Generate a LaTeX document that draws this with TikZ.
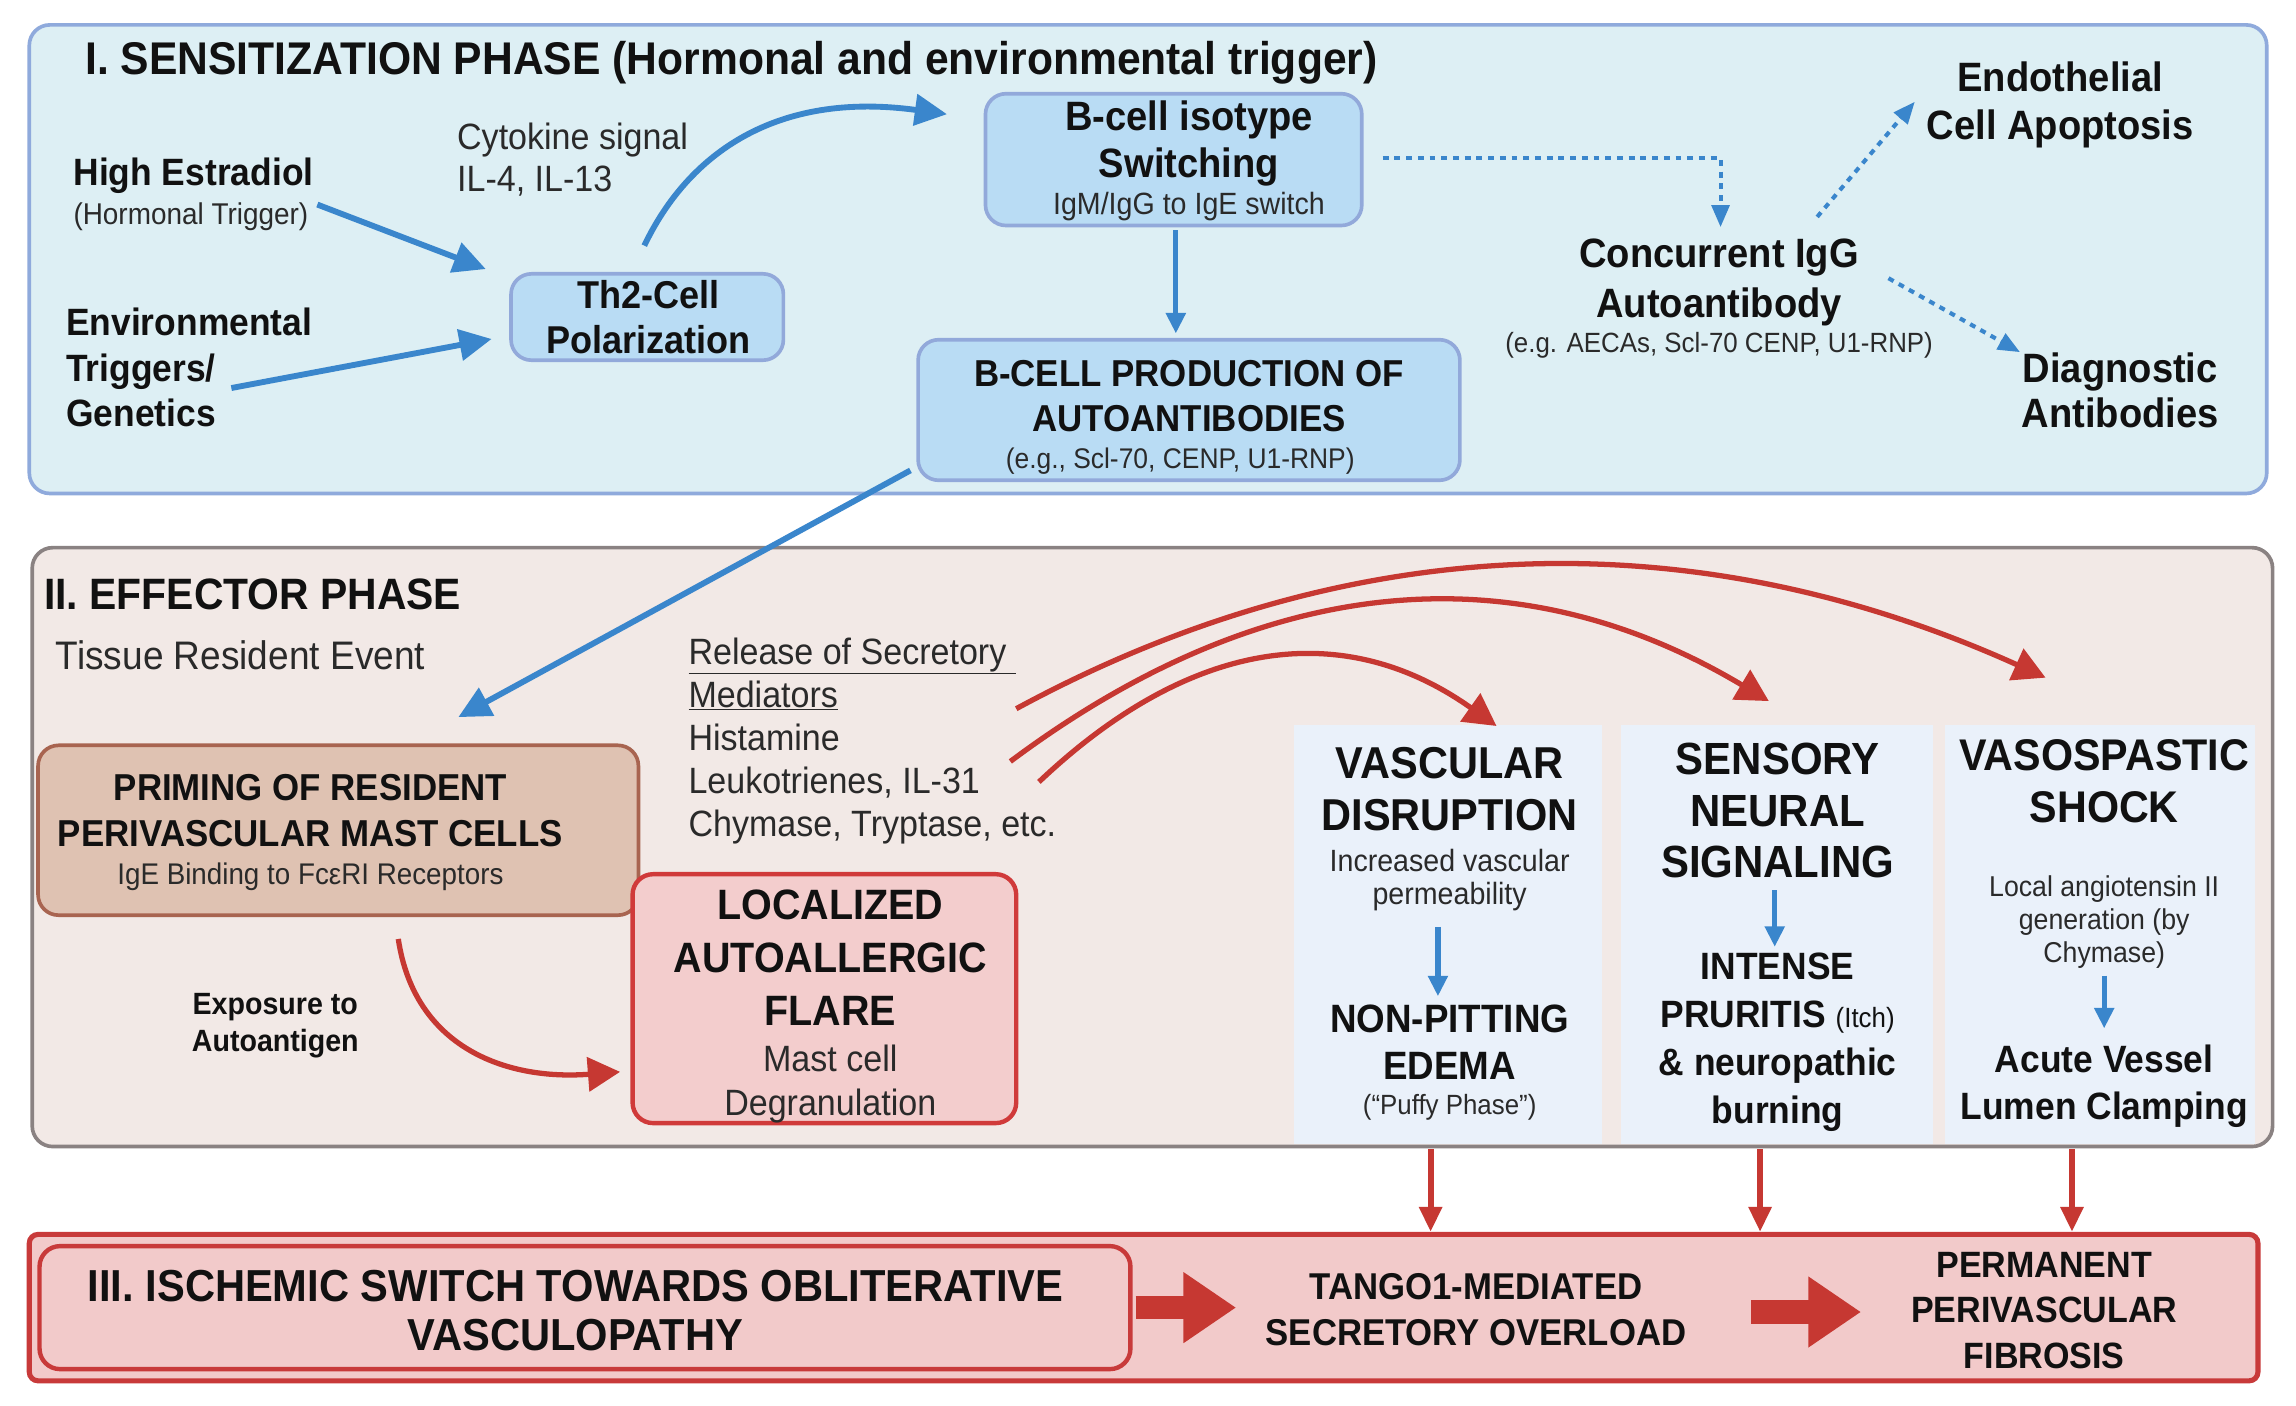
\documentclass[tikz,border=0pt]{standalone}
\usepackage{fontspec}
\setmainfont{Liberation Sans}[FakeStretch=0.93]
\usetikzlibrary{arrows.meta,calc}
\definecolor{fillI}{HTML}{DDEFF4}
\definecolor{bordI}{HTML}{8FAADC}
\definecolor{bfill}{HTML}{B9DCF4}
\definecolor{bbord}{HTML}{92A9DA}
\definecolor{ablue}{HTML}{3A86CC}
\definecolor{fillII}{HTML}{F2E9E6}
\definecolor{bordII}{HTML}{8A8282}
\definecolor{primfill}{HTML}{DFC2B2}
\definecolor{primbord}{HTML}{A86450}
\definecolor{locfill}{HTML}{F3CDCD}
\definecolor{locbord}{HTML}{D03A3A}
\definecolor{ared}{HTML}{C63832}
\definecolor{colfill}{HTML}{EAF1FA}
\definecolor{fillIII}{HTML}{F2CACA}
\definecolor{bordIII}{HTML}{C83A3A}
\definecolor{txtc}{HTML}{111111}
\definecolor{subc}{HTML}{2A2A2A}
\newcommand{\fs}[2]{\fontsize{#1}{#2}\selectfont}
\begin{document}
\begin{tikzpicture}[x=1pt,y=-1pt,
  lbl/.style={inner sep=0pt, text=txtc, align=center},
  sublbl/.style={inner sep=0pt, text=subc, align=center},
  panelI/.style={draw=bordI, fill=fillI, line width=2.5pt, rounded corners=14pt, inner sep=0pt},
  panelII/.style={draw=bordII, fill=fillII, line width=2.5pt, rounded corners=14pt, inner sep=0pt},
  panelIII/.style={draw=bordIII, fill=fillIII, line width=3.5pt, rounded corners=6pt, inner sep=0pt},
  innerIII/.style={draw=bordIII, fill=fillIII, line width=3pt, rounded corners=14pt, inner sep=0pt},
  bbox/.style={draw=bbord, fill=bfill, line width=2.5pt, rounded corners=14pt, inner sep=0pt},
  primbox/.style={draw=primbord, fill=primfill, line width=2.5pt, rounded corners=14pt, inner sep=0pt},
  locbox/.style={draw=locbord, fill=locfill, line width=3pt, rounded corners=14pt, inner sep=0pt},
  colbox/.style={fill=colfill, inner sep=0pt},
  barrow/.style={ablue, line width=4pt, -{Triangle[length=22pt,width=21pt]}},
  bsmall/.style={ablue, line width=3.5pt, -{Triangle[length=14pt,width=13pt]}},
  bdot/.style={ablue, line width=2.8pt, dash pattern=on 4pt off 4pt, -{Triangle[length=15pt,width=12pt]}},
  rarrow/.style={ared, line width=3.6pt, -{Triangle[length=22pt,width=23pt]}},
  rdown/.style={ared, line width=4pt, -{Triangle[length=17pt,width=15pt]}},
  blockarr/.style={ared, line width=16pt, -{Triangle[length=36pt,width=46pt]}}
]
\fill[white] (0,0) rectangle (1568,960);
\useasboundingbox (0,0) rectangle (1568,960);

% ---------- Panel I ----------
\node[panelI, minimum width=1528pt, minimum height=320pt] (pI) at (784,177) {};
\node[lbl, anchor=base west, font=\fs{31.3}{36}\bfseries] (tI) at (58,51)
  {I. SENSITIZATION PHASE (Hormonal and environmental trigger)};
\node[lbl, anchor=base west, font=\fs{26}{31}\bfseries] (est) at (50,127) {High Estradiol};
\node[sublbl, anchor=base west, font=\fs{20.5}{24}] (estsub) at (50,153) {(Hormonal Trigger)};
\node[lbl, anchor=west, align=left, font=\fs{26}{31}\bfseries] (env) at (45,251)
  {Environmental\\Triggers/\\Genetics};
\node[sublbl, anchor=west, align=left, font=\fs{25}{29}] (cyt) at (312,109)
  {Cytokine signal\\IL-4, IL-13};

\node[bbox, minimum width=186pt, minimum height=59pt] (th2) at (442,216.5) {};
\node[lbl, font=\fs{26.5}{31}\bfseries] (th2t) at (443,216.5) {Th2-Cell\\Polarization};

\node[bbox, minimum width=257pt, minimum height=90pt] (bsw) at (801.5,109) {};
\node[lbl, font=\fs{28}{32}\bfseries] (bswt) at (812,98) {B-cell isotype\\Switching};
\node[sublbl, font=\fs{21}{24}] (bsws) at (812,141) {IgM/IgG to IgE switch};

\node[bbox, minimum width=370pt, minimum height=96pt] (bprod) at (812,280) {};
\node[lbl, font=\fs{25.6}{31}\bfseries] (bprodt) at (812,270.5) {B-CELL PRODUCTION OF\\AUTOANTIBODIES};
\node[sublbl, font=\fs{19.4}{23}] (bprods) at (806,315) {(e.g., Scl-70, CENP, U1-RNP)};

\node[lbl, font=\fs{28}{34}\bfseries] (conc) at (1174,193) {Concurrent IgG\\Autoantibody};
\node[sublbl, font=\fs{19}{23}] (concs) at (1174,236) {(e.g. AECAs, Scl-70 CENP, U1-RNP)};
\node[lbl, font=\fs{28}{33}\bfseries] (endo) at (1407,71.5) {Endothelial\\Cell Apoptosis};
\node[lbl, font=\fs{28}{31}\bfseries] (diag) at (1448,266.5) {Diagnostic\\Antibodies};

% connectors panel I
\draw[barrow] ($(estsub.east)+(6,-8)$) -- ($(th2.north west)+(-16,-2)$);
\draw[barrow] ($(env.west)+(113,14)$) -- ($(th2.west)+(-12,15)$);
\draw[barrow] ($(th2.north)+(-2,-18)$) .. controls (470,105) and (530,62) .. ($(bsw.west)+(-25,-31)$);
\draw[bsmall] ($(bsw.south)+(1.5,2)$) -- ($(bprod.north)+(-9,-3)$);
\draw[bdot] ($(bsw.east)+(13,-1)$) -| ($(conc.north)+(1,-8)$);
\draw[bdot] ($(conc.north)+(67,-15)$) -- ($(endo.west)+(-8,-2)$);
\draw[bdot] ($(conc.east)+(20,-3)$) -- ($(diag.west)+(-1,-26)$);

% ---------- Panel II ----------
\node[panelII, minimum width=1530pt, minimum height=409pt] (pII) at (787,578.5) {};
\node[colbox, minimum width=210pt, minimum height=286.5pt] (col1) at (989,638.25) {};
\node[colbox, minimum width=213pt, minimum height=286.5pt] (col2) at (1213.5,638.25) {};
\node[colbox, minimum width=212pt, minimum height=286.5pt] (col3) at (1434,638.25) {};

\node[lbl, anchor=base west, font=\fs{30}{34}\bfseries] (tII) at (30,416) {II. EFFECTOR PHASE};
\node[sublbl, anchor=base west, font=\fs{27.2}{30}] (tre) at (38,457) {Tissue Resident Event};
\node[sublbl, anchor=west, align=left, font=\fs{25}{29.5}] (med) at (470,506)
  {\underline{Release of Secretory\ }\\\underline{Mediators}\\Histamine\\Leukotrienes, IL-31\\Chymase, Tryptase, etc.};

\node[primbox, minimum width=410pt, minimum height=116pt] (prim) at (231,567) {};
\node[lbl, font=\fs{25.6}{31}\bfseries] (primt) at (212,553.5) {PRIMING OF RESIDENT\\PERIVASCULAR MAST CELLS};
\node[sublbl, font=\fs{20.4}{24}] (prims) at (212,599) {IgE Binding to FcεRI Receptors};

\node[locbox, minimum width=262pt, minimum height=170pt] (loc) at (563,682) {};
\node[lbl, font=\fs{29}{36}\bfseries] (loct) at (567,654) {LOCALIZED\\AUTOALLERGIC\\FLARE};
\node[sublbl, font=\fs{25}{30}] (locs) at (567,740.5) {Mast cell\\Degranulation};

\node[lbl, font=\fs{21}{25}\bfseries] (expo) at (188,700.5) {Exposure to\\Autoantigen};

% column texts
\node[lbl, font=\fs{30.5}{36}\bfseries] (c1t) at (990,539) {VASCULAR\\DISRUPTION};
\node[sublbl, font=\fs{21}{22}] (c1s) at (990,601) {Increased vascular\\permeability};
\node[lbl, font=\fs{27}{32}\bfseries] (c1b) at (990,712) {NON-PITTING\\EDEMA};
\node[sublbl, font=\fs{19}{22}] (c1p) at (990,756) {(\textquotedblleft Puffy Phase\textquotedblright)};

\node[lbl, font=\fs{30.8}{35.5}\bfseries] (c2t) at (1214,553.5) {SENSORY\\NEURAL\\SIGNALING};
\node[lbl, font=\fs{26}{32.7}\bfseries] (c2b) at (1214,711.7)
  {INTENSE\\PRURITIS {\mdseries\fs{19}{32.7}(Itch)}\\\& neuropathic\\burning};

\node[lbl, font=\fs{30.3}{35}\bfseries] (c3t) at (1437,533.5) {VASOSPASTIC\\SHOCK};
\node[sublbl, font=\fs{19.6}{22.5}] (c3s) at (1437,629.5) {Local angiotensin II\\generation (by\\Chymase)};
\node[lbl, font=\fs{26}{32}\bfseries] (c3b) at (1437,741.7) {Acute Vessel\\Lumen Clamping};

% connectors panel II
\draw[barrow] ($(bprod.south west)+(-4,-8)$) -- ($(prim.north)+(82,-18)$);
\draw[rarrow] ($(prim.south)+(41,15)$) .. controls (283,715) and (345,738) .. ($(loc.west)+(-7,50)$);
\draw[rarrow] ($(med.west)+(224,-22)$) .. controls (921,361) and (1156,354) .. ($(col3.north)+(-37,-32)$);
\draw[rarrow] ($(med.west)+(220,14)$) .. controls (864,390) and (1036,376) .. ($(col2.north)+(-5.5,-16)$);
\draw[rarrow] ($(med.west)+(239.5,28)$) .. controls (814,435) and (918,422) .. ($(col1.north)+(33,1)$);
\draw[bsmall] ($(c1s.south)+(-8,11)$) -- ($(c1b.north)+(-8,-6)$);
\draw[bsmall] ($(c2t.south)+(-2,8)$) -- ($(c2b.north)+(-2,-4)$);
\draw[bsmall] ($(c3s.south)+(0,5)$) -- ($(c3b.north)+(0,-11)$);

% ---------- Panel III ----------
\node[panelIII, minimum width=1522pt, minimum height=100pt] (pIII) at (781,893) {};
\node[innerIII, minimum width=745pt, minimum height=84pt] (isch) at (399.5,893) {};
\node[lbl, font=\fs{30.6}{34}\bfseries] (ischt) at (393,895) {III. ISCHEMIC SWITCH TOWARDS OBLITERATIVE\\VASCULOPATHY};
\node[lbl, font=\fs{25.5}{31}\bfseries] (tango) at (1008,894.5) {TANGO1-MEDIATED\\SECRETORY OVERLOAD};
\node[lbl, font=\fs{25}{31}\bfseries] (perm) at (1396,895) {PERMANENT\\PERIVASCULAR\\FIBROSIS};

\draw[rdown] ($(col1.south)+(-12,3)$) -- ($(pIII.north)+(196,0)$);
\draw[rdown] ($(col2.south)+(-11.5,3)$) -- ($(pIII.north)+(421,0)$);
\draw[rdown] ($(col3.south)+(-19,3)$) -- ($(pIII.north)+(634,0)$);

\draw[blockarr] ($(isch.east)+(2,0)$) -- ($(tango.west)+(-20,-1.5)$);
\draw[blockarr] ($(tango.east)+(44,1.5)$) -- ($(perm.west)+(-34,1)$);
\end{tikzpicture}
\end{document}
